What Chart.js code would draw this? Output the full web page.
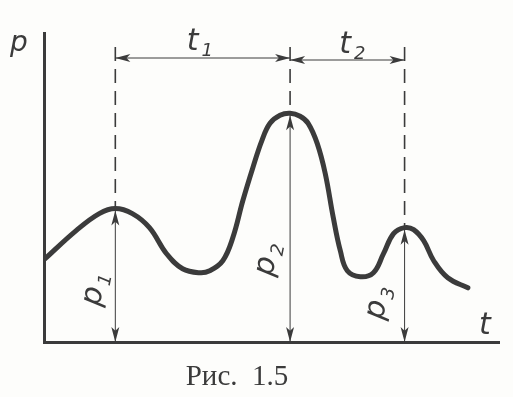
<!DOCTYPE html>
<html>
<head>
<meta charset="utf-8">
<script src="https://cdn.jsdelivr.net/npm/chart.js@4/dist/chart.umd.min.js"></script>
<style>
  html, body { margin: 0; padding: 0; background: #fdfdfb; }
  #wrap { width: 513px; height: 397px; position: relative; }
</style>
</head>
<body>
<div id="wrap"><canvas id="myChart"></canvas></div>
<script>
// curve points (t, p)
var curveT = [0, 3.2, 5.5, 7.1, 8.8, 10.5, 12.2, 13.8, 15.5, 16.5, 17.8, 18.8, 19.8, 20.8, 21.7, 22.5, 23.5, 24.5, 25.5, 26.3, 27.2, 28.0, 28.8, 29.5, 30.2, 31.5, 32.8, 33.8, 34.8, 35.9, 36.8, 37.8, 38.8, 40.2, 42.2];
var curveP = [8.2, 11.1, 12.8, 13.3, 12.8, 11.4, 8.8, 7.3, 6.9, 7.1, 8.1, 10.4, 14.1, 17.4, 20.1, 21.8, 22.6, 22.8, 22.5, 21.8, 19.8, 16.8, 12.4, 9.1, 7.1, 6.5, 6.9, 8.8, 10.8, 11.4, 11.2, 10.1, 8.1, 6.4, 5.4];

// peaks
var peakT = [7.1, 24.5, 35.9];
var peakP = [13.3, 22.8, 11.4];
var peakNames = ['p', 'p', 'p'];
var peakSubs = ['1', '2', '3'];

// intervals between peaks
var spanNames = ['t', 't'];
var spanSubs = ['1', '2'];

var axisNameY = 'p';
var axisNameX = 't';
var caption = 'Рис.  1.5';

var ink = '#3b3b3b';

var points = [];
curveT.forEach(function(t, i){
  points.push({x: t, y: curveP[i]});
});

function arrowHead(ctx, x, y, dx, dy){
  // tip at x,y pointing along dx,dy
  var len = 15, w = 4;
  var px = -dy, py = dx;
  ctx.beginPath();
  ctx.moveTo(x, y);
  ctx.lineTo(x - dx*len + px*w, y - dy*len + py*w);
  ctx.lineTo(x - dx*len*0.75, y - dy*len*0.75);
  ctx.lineTo(x - dx*len - px*w, y - dy*len - py*w);
  ctx.closePath();
  ctx.fill();
}

function subText(ctx, x, y, main, sub, size){
  ctx.font = 'italic 300 ' + size + 'px "DejaVu Sans"';
  ctx.textBaseline = 'alphabetic';
  ctx.textAlign = 'left';
  ctx.fillText(main, x, y);
  var w = ctx.measureText(main).width;
  ctx.font = 'italic ' + Math.round(size*0.6) + 'px "DejaVu Sans"';
  ctx.fillText(sub, x + w + 3, y + size*0.2);
}

var marks = {
  id: 'marks',
  beforeDatasetsDraw: function(chart){
    var ctx = chart.ctx;
    var xs = chart.scales.x, ys = chart.scales.y;
    var area = chart.chartArea;
    ctx.save();
    // dashed verticals
    ctx.strokeStyle = ink;
    ctx.lineWidth = 1.6;
    ctx.setLineDash([14, 8]);
    peakT.forEach(function(t, i){
      var x = xs.getPixelForValue(t);
      ctx.beginPath();
      ctx.moveTo(x, area.top + 14);
      ctx.lineTo(x, ys.getPixelForValue(peakP[i]));
      ctx.stroke();
    });
    ctx.setLineDash([]);
    // vertical double arrows p1..p3
    ctx.fillStyle = ink;
    ctx.lineWidth = 1;
    peakT.forEach(function(t, i){
      var x = xs.getPixelForValue(t);
      var yTop = ys.getPixelForValue(peakP[i]);
      var yBot = ys.getPixelForValue(0);
      ctx.beginPath();
      ctx.moveTo(x, yTop);
      ctx.lineTo(x, yBot);
      ctx.stroke();
      arrowHead(ctx, x, yTop + 2, 0, -1);
      arrowHead(ctx, x, yBot, 0, 1);
    });
    // horizontal spans t1, t2
    var yArrow = area.top + 25;
    for (var i = 0; i < peakT.length - 1; i++){
      var x1 = xs.getPixelForValue(peakT[i]);
      var x2 = xs.getPixelForValue(peakT[i+1]);
      var ya = yArrow + i*2;
      ctx.beginPath();
      ctx.moveTo(x1, ya);
      ctx.lineTo(x2, ya);
      ctx.stroke();
      arrowHead(ctx, x1, ya, -1, 0);
      arrowHead(ctx, x2, ya, 1, 0);
    }
    ctx.restore();
  },
  afterDraw: function(chart){
    var ctx = chart.ctx;
    var xs = chart.scales.x, ys = chart.scales.y;
    var area = chart.chartArea;
    ctx.save();
    ctx.fillStyle = ink;
    // span labels
    var spanShift = [-16, -8];
    for (var i = 0; i < spanNames.length; i++){
      var mid = (xs.getPixelForValue(peakT[i]) + xs.getPixelForValue(peakT[i+1])) / 2;
      subText(ctx, mid + spanShift[i], area.top + 17 + i*3, spanNames[i], spanSubs[i], 30);
    }
    // peak labels, rotated
    var offY = [0.41, 0.37, 0.36];
    var offX = [-12, -14, -18];
    peakT.forEach(function(t, i){
      var x = xs.getPixelForValue(t) + offX[i];
      var y = ys.getPixelForValue(peakP[i]*offY[i]);
      ctx.save();
      ctx.translate(x, y);
      ctx.rotate(-Math.PI/2 + 0.2);
      subText(ctx, -20, 0, peakNames[i], peakSubs[i], 30);
      ctx.restore();
    });
    // axis names
    subText(ctx, 10, area.top + 18, axisNameY, '', 28);
    subText(ctx, xs.getPixelForValue(43.3), ys.getPixelForValue(0) - 8, axisNameX, '', 30);
    // caption
    ctx.font = '29px "Liberation Serif"';
    ctx.textAlign = 'center';
    ctx.textBaseline = 'alphabetic';
    ctx.fillText(caption, 237, 385);
    ctx.restore();
  }
};

var ctx = document.getElementById('myChart');
var myChart = new Chart(ctx, {
  type: 'scatter',
  data: {
    datasets: [{
      data: points,
      showLine: true,
      borderColor: ink,
      borderWidth: 5,
      borderCapStyle: 'round',
      pointRadius: 0,
      tension: 0.4,
      fill: false
    }]
  },
  options: {
    responsive: true,
    maintainAspectRatio: false,
    animation: false,
    layout: { padding: { left: 44, right: 14, top: 33, bottom: 55 } },
    plugins: { legend: { display: false }, tooltip: { enabled: false } },
    scales: {
      x: {
        type: 'linear', min: 0, max: 45.3,
        grid: { display: false, drawTicks: false },
        ticks: { display: false },
        border: { color: ink, width: 3 }
      },
      y: {
        type: 'linear', min: 0, max: 30.8,
        grid: { display: false, drawTicks: false },
        ticks: { display: false },
        border: { color: ink, width: 3 }
      }
    }
  },
  plugins: [marks]
});
</script>
</body>
</html>
